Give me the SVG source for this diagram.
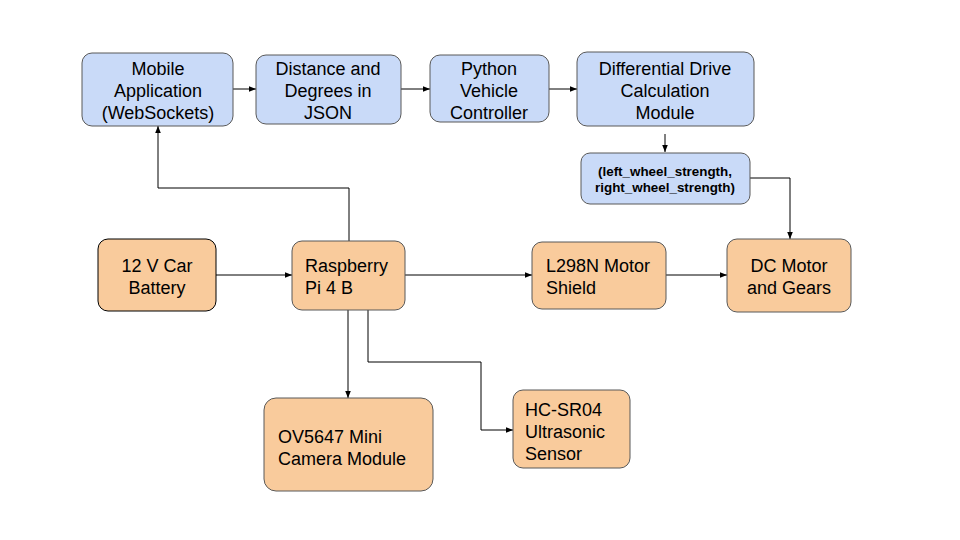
<svg xmlns="http://www.w3.org/2000/svg" width="960" height="540" viewBox="0 0 960 540">
<defs>
<marker id="ah" viewBox="0 0 10 10" refX="10" refY="5" markerWidth="7" markerHeight="7" markerUnits="userSpaceOnUse" orient="auto">
<path d="M0,1 L10,5 L0,9 Z" fill="#000"/>
</marker>
</defs>
<style>
.blue{fill:#c9daf8;stroke:#595959;stroke-width:1}
.orange{fill:#f9cb9c;stroke:#595959;stroke-width:1}
.dark{stroke:#000}
text{font-family:"Liberation Sans",Arial,sans-serif;font-size:18px;fill:#000}
.c{text-anchor:middle}
.b{font-weight:bold;font-size:13.4px}
.conn{fill:none;stroke:#000;stroke-width:1;marker-end:url(#ah)}
</style>
<rect width="960" height="540" fill="#fff"/>
<g id="connectors">
<path class="conn" d="M233,89 H256"/>
<path class="conn" d="M401,89 H430"/>
<path class="conn" d="M549,89 H577"/>
<path class="conn" d="M665,134 V152"/>
<path class="conn" d="M750,178 H790 V239"/>
<path class="conn" d="M349,241 V188 H158 V126"/>
<path class="conn" d="M216,275 H292"/>
<path class="conn" d="M405,275 H532"/>
<path class="conn" d="M666,275 H727"/>
<path class="conn" d="M348,310 V398"/>
<path class="conn" d="M368,310 V362 H481 V430 H513"/>
</g>
<g id="mobile">
<rect class="blue" x="82" y="53" width="151" height="73" rx="10"/>
<text class="c" x="158" y="75">Mobile</text>
<text class="c" x="158" y="97">Application</text>
<text class="c" x="158" y="119">(WebSockets)</text>
</g>
<g id="distance">
<rect class="blue" x="256" y="55" width="145" height="69" rx="10"/>
<text class="c" x="328" y="75">Distance and</text>
<text class="c" x="328" y="97">Degrees in</text>
<text class="c" x="328" y="119">JSON</text>
</g>
<g id="python">
<rect class="blue" x="430" y="55" width="119" height="67" rx="10"/>
<text class="c" x="489" y="75">Python</text>
<text class="c" x="489" y="97">Vehicle</text>
<text class="c" x="489" y="119">Controller</text>
</g>
<g id="differential">
<rect class="blue" x="577" y="52" width="177" height="74" rx="10"/>
<text class="c" x="665" y="75">Differential Drive</text>
<text class="c" x="665" y="97">Calculation</text>
<text class="c" x="665" y="119">Module</text>
</g>
<g id="tuple">
<rect class="blue" x="581" y="153" width="169" height="51" rx="9"/>
<text class="c b" x="665" y="176">(left_wheel_strength,</text>
<text class="c b" x="665" y="192">right_wheel_strength)</text>
</g>
<g id="battery">
<rect class="orange dark" x="98" y="239" width="118" height="72" rx="10"/>
<text class="c" x="157" y="272">12 V Car</text>
<text class="c" x="157" y="294">Battery</text>
</g>
<g id="raspberry">
<rect class="orange" x="292" y="241" width="113" height="69" rx="10"/>
<text x="305" y="272">Raspberry</text>
<text x="305" y="294">Pi 4 B</text>
</g>
<g id="l298n">
<rect class="orange" x="532" y="242" width="134" height="67" rx="10"/>
<text x="546" y="272">L298N Motor</text>
<text x="546" y="294">Shield</text>
</g>
<g id="dcmotor">
<rect class="orange" x="727" y="239" width="124" height="73" rx="10"/>
<text class="c" x="789" y="272">DC Motor</text>
<text class="c" x="789" y="294">and Gears</text>
</g>
<g id="camera">
<rect class="orange" x="264" y="398" width="169" height="93" rx="12"/>
<text x="278" y="443">OV5647 Mini</text>
<text x="278" y="465">Camera Module</text>
</g>
<g id="ultrasonic">
<rect class="orange" x="513" y="390" width="117" height="78" rx="10"/>
<text x="525" y="416">HC-SR04</text>
<text x="525" y="438">Ultrasonic</text>
<text x="525" y="460">Sensor</text>
</g>
</svg>
